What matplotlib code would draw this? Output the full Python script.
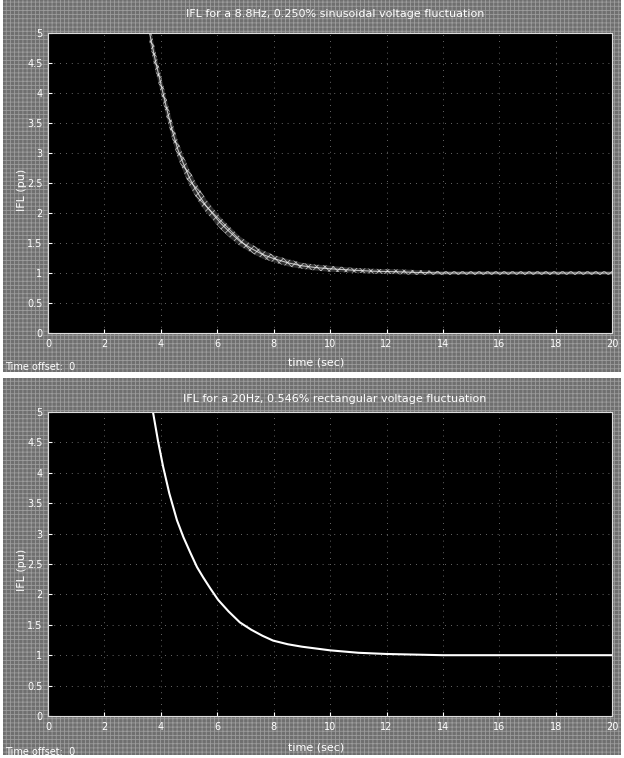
import matplotlib
matplotlib.use("Agg")
import matplotlib.pyplot as plt
from matplotlib.patches import Rectangle

# Panel 1: 8.8 Hz, 0.250 % sinusoidal fluctuation
top_time = [3.6, 3.8, 4.0, 4.2, 4.4, 4.6, 4.8, 5.0, 5.2, 5.4, 5.6, 5.85, 6.1, 6.4, 6.8,
            7.2, 7.6, 8.0, 8.5, 9.0, 9.5, 10.0, 10.7, 11.5, 12.4, 13.0, 14.0, 16.0, 18.0, 20.0]
top_ifl = [5.0, 4.55, 4.15, 3.75, 3.38, 3.06, 2.82, 2.60, 2.42, 2.26, 2.12, 1.98, 1.84, 1.70, 1.53,
           1.41, 1.31, 1.24, 1.17, 1.12, 1.09, 1.07, 1.05, 1.03, 1.02, 1.01, 1.00, 1.00, 1.00, 1.00]
# half-width of the ripple band around the curve
top_ripple = [0.16, 0.16, 0.15, 0.15, 0.14, 0.14, 0.13, 0.13, 0.12, 0.12, 0.11, 0.10, 0.10, 0.09, 0.08,
              0.07, 0.07, 0.06, 0.06, 0.05, 0.05, 0.05, 0.04, 0.04, 0.04, 0.04, 0.03, 0.03, 0.03, 0.03]

# Panel 2: 20 Hz, 0.546 % rectangular fluctuation
bot_time = [3.72, 3.9, 4.08, 4.3, 4.57, 4.8, 5.05, 5.28, 5.5, 5.75, 6.03, 6.4, 6.8, 7.2, 7.6,
            7.98, 8.5, 9.0, 9.5, 10.0, 10.5, 11.0, 11.5, 12.0, 13.0, 14.0, 16.0, 18.0, 20.0]
bot_ifl = [5.0, 4.52, 4.10, 3.66, 3.22, 2.94, 2.68, 2.45, 2.28, 2.10, 1.91, 1.72, 1.54, 1.42, 1.32,
           1.24, 1.18, 1.14, 1.11, 1.08, 1.06, 1.04, 1.03, 1.02, 1.01, 1.00, 1.00, 1.00, 1.00]

titles = ["IFL for a 8.8Hz, 0.250% sinusoidal voltage fluctuation",
          "IFL for a 20Hz, 0.546% rectangular voltage fluctuation"]
x_ticks = list(range(0, 21, 2))
y_ticks = [0, 0.5, 1, 1.5, 2, 2.5, 3, 3.5, 4, 4.5, 5]
y_ticklabels = ["0", "0.5", "1", "1.5", "2", "2.5", "3", "3.5", "4", "4.5", "5"]

plt.rcParams["hatch.linewidth"] = 0.6

fig = plt.figure(figsize=(6.24, 7.58), dpi=100, facecolor="white")

# gray halftone-like panel backgrounds
for y0, h in ((0.509, 0.491), (0.004, 0.497)):
    fig.patches.append(Rectangle((0.005, y0), 0.99, h, transform=fig.transFigure,
                                 facecolor="#6f6f6f", edgecolor="#9c9c9c", hatch="++++",
                                 linewidth=0, zorder=-5))

ax_top = fig.add_axes([0.077, 0.5607, 0.904, 0.3958])
ax_bot = fig.add_axes([0.077, 0.0554, 0.904, 0.4011])

for ax in (ax_top, ax_bot):
    ax.set_zorder(2)
    ax.set_facecolor("black")
    ax.set_xlim(0, 20)
    ax.set_ylim(0, 5)
    ax.set_xticks(x_ticks)
    ax.set_yticks(y_ticks)
    ax.set_yticklabels(y_ticklabels)
    ax.tick_params(direction="in", colors="white", labelsize=7, length=3, pad=4)
    ax.grid(True, color="#8a8a8a", linestyle=(0, (1, 6)), linewidth=0.6)
    for s in ax.spines.values():
        s.set_color("#dddddd")
        s.set_linewidth(0.8)

# sinusoidal case: thick rippled band
ax_top.fill_between(top_time,
                    [y - r for y, r in zip(top_ifl, top_ripple)],
                    [y + r for y, r in zip(top_ifl, top_ripple)],
                    facecolor="#2e2e2e", edgecolor="#bdbdbd", hatch="xxxx", linewidth=0)
ax_top.plot(top_time, top_ifl, color="white", linewidth=0.8, alpha=0.7)

# rectangular case: thin clean line
ax_bot.plot(bot_time, bot_ifl, color="white", linewidth=1.5)

txt = dict(color="white", fontsize=8, zorder=3)
fig.text(0.537, 0.9815, titles[0], ha="center", va="center", **txt)
fig.text(0.537, 0.4736, titles[1], ha="center", va="center", **txt)
fig.text(0.506, 0.522, "time (sec)", ha="center", va="center", **txt)
fig.text(0.506, 0.0145, "time (sec)", ha="center", va="center", **txt)
fig.text(0.008, 0.5158, "Time offset:  0", ha="left", va="center", color="white", fontsize=7)
fig.text(0.008, 0.008, "Time offset:  0", ha="left", va="center", color="white", fontsize=7)
fig.text(0.035, 0.75, "IFL (pu)", rotation=90, ha="center", va="center", **txt)
fig.text(0.035, 0.248, "IFL (pu)", rotation=90, ha="center", va="center", **txt)

fig.savefig("out.png", dpi=100, facecolor=fig.get_facecolor())
